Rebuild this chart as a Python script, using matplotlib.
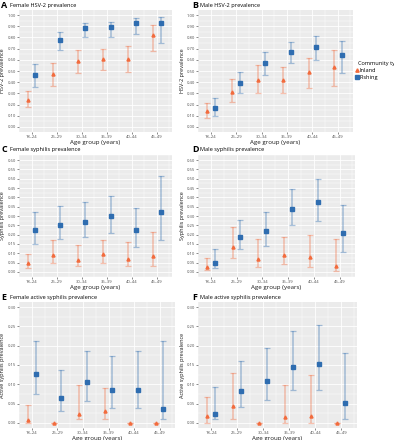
import matplotlib
matplotlib.use("Agg")
import matplotlib.pyplot as plt
import numpy as np
from matplotlib.ticker import MultipleLocator, FormatStrFormatter

age_groups = ["18\u201324", "25\u201329", "30\u201334", "35\u201339", "40\u201344", "45\u201349"]

# (estimate, lower, upper) per age group
a_inland = [(0.24, 0.18, 0.32), (0.47, 0.37, 0.57), (0.59, 0.48, 0.69),
            (0.61, 0.51, 0.70), (0.61, 0.49, 0.72), (0.82, 0.68, 0.91)]
a_fishing = [(0.46, 0.36, 0.56), (0.78, 0.69, 0.85), (0.88, 0.80, 0.93),
             (0.89, 0.80, 0.94), (0.93, 0.83, 0.97), (0.93, 0.75, 0.98)]

b_inland = [(0.14, 0.08, 0.21), (0.31, 0.22, 0.43), (0.42, 0.30, 0.55),
            (0.42, 0.30, 0.54), (0.49, 0.35, 0.62), (0.54, 0.37, 0.69)]
b_fishing = [(0.17, 0.10, 0.26), (0.39, 0.30, 0.49), (0.57, 0.46, 0.67),
             (0.67, 0.57, 0.76), (0.71, 0.60, 0.81), (0.64, 0.48, 0.77)]

c_inland = [(0.048, 0.020, 0.098), (0.089, 0.048, 0.170), (0.063, 0.032, 0.146),
            (0.095, 0.048, 0.173), (0.071, 0.030, 0.160), (0.088, 0.032, 0.212)]
c_fishing = [(0.227, 0.152, 0.320), (0.254, 0.175, 0.352), (0.268, 0.190, 0.375),
             (0.298, 0.209, 0.405), (0.223, 0.134, 0.345), (0.321, 0.173, 0.512)]

d_inland = [(0.027, 0.011, 0.077), (0.136, 0.077, 0.240), (0.071, 0.029, 0.179),
            (0.093, 0.041, 0.189), (0.080, 0.029, 0.196), (0.032, 0.004, 0.179)]
d_fishing = [(0.050, 0.020, 0.125), (0.190, 0.125, 0.279), (0.220, 0.141, 0.321),
             (0.339, 0.250, 0.443), (0.377, 0.273, 0.496), (0.207, 0.109, 0.361)]

e_inland = [(0.008, 0.000, 0.047), (0.0, 0.0, 0.0), (0.024, 0.011, 0.099),
            (0.031, 0.011, 0.091), (0.0, 0.0, 0.0), (0.0, 0.0, 0.0)]
e_fishing = [(0.127, 0.075, 0.213), (0.065, 0.030, 0.138), (0.105, 0.056, 0.187),
             (0.086, 0.038, 0.173), (0.085, 0.038, 0.187), (0.036, 0.010, 0.213)]

f_inland = [(0.017, 0.000, 0.066), (0.044, 0.010, 0.130), (0.0, 0.0, 0.0),
            (0.016, 0.000, 0.099), (0.018, 0.000, 0.124), (0.0, 0.0, 0.0)]
f_fishing = [(0.024, 0.010, 0.092), (0.083, 0.040, 0.160), (0.109, 0.058, 0.194),
             (0.146, 0.084, 0.237), (0.153, 0.084, 0.255), (0.051, 0.010, 0.180)]

INLAND = "#F26B3D"
FISHING = "#2F6DB0"
W, H = 394, 440

# letter, title, y label, inland, fishing, y max, tick step, plot box (px), letter x, y label x
panels = [
    ("A", "Female HSV-2 prevalence", "HSV-2 prevalence", a_inland, a_fishing, 1.0, 0.1, (19, 10, 172, 132), 1, 5),
    ("B", "Male HSV-2 prevalence", "HSV-2 prevalence", b_inland, b_fishing, 1.0, 0.1, (198, 10, 353, 132), 192, 185),
    ("C", "Female syphilis prevalence", "Syphilis prevalence", c_inland, c_fishing, 0.6, 0.05, (19, 155, 172, 277), 1, 5),
    ("D", "Male syphilis prevalence", "Syphilis prevalence", d_inland, d_fishing, 0.6, 0.05, (198, 155, 355, 277), 192, 185),
    ("E", "Female active syphilis prevalence", "Active syphilis prevalence", e_inland, e_fishing, 0.3, 0.05, (19, 302, 175, 428), 1, 5),
    ("F", "Male active syphilis prevalence", "Active syphilis prevalence", f_inland, f_fishing, 0.3, 0.05, (198, 302, 357, 428), 192, 185),
]

fig = plt.figure(figsize=(W / 100, H / 100), dpi=100)
plt.rcParams['font.family'] = ['Open Sans', 'DejaVu Sans']


def draw(ax, data, offset, color, marker):
    x = np.arange(len(data)) + offset
    est = np.array([d[0] for d in data])
    lo = np.array([d[1] for d in data])
    hi = np.array([d[2] for d in data])
    ax.errorbar(x, est, yerr=[est - lo, hi - est], fmt="none", ecolor=color,
                alpha=0.4, elinewidth=1.1, capsize=2.0, capthick=0.9, zorder=3)
    ax.plot(x, est, linestyle="none", marker=marker, ms=2.2, color=color, zorder=4)


for letter, title, ylab, inland, fishing, ymax, step, (x0, y0, x1, y1), lx, yx in panels:
    ax = fig.add_axes([x0 / W, (H - y1) / H, (x1 - x0) / W, (y1 - y0) / H])
    ax.set_facecolor("#EBEBEB")
    for s in ax.spines.values():
        s.set_visible(False)
    draw(ax, inland, -0.15, INLAND, "^")
    draw(ax, fishing, 0.15, FISHING, "s")
    ax.set_xlim(-0.5, 5.6)
    pad = ymax * 0.045
    ax.set_ylim(-pad, ymax + pad)
    ax.yaxis.set_major_locator(MultipleLocator(step))
    ax.yaxis.set_minor_locator(MultipleLocator(step / 2))
    ax.yaxis.set_major_formatter(FormatStrFormatter("%.2f"))
    ax.set_xticks(range(len(age_groups)))
    ax.set_xticklabels(age_groups)
    ax.set_xticks(np.arange(-0.5, 6, 1), minor=True)
    ax.grid(which="major", color="white", lw=0.6)
    ax.grid(which="minor", color="white", lw=0.3)
    ax.set_axisbelow(True)
    ax.tick_params(which="major", labelsize=3.0, length=1.2, width=0.4, color="#333333",
                   labelcolor="#4D4D4D", pad=1.0)
    ax.tick_params(which="minor", length=0)
    ax.set_xlabel("Age group (years)", fontsize=4.4, color="#1A1A1A")
    ax.xaxis.set_label_coords(0.5, -8.0 / (y1 - y0))
    ax.set_ylabel(ylab, fontsize=4.0, color="#1A1A1A")
    ax.yaxis.set_label_coords(-(x0 - yx) / (x1 - x0), 0.5)
    fig.text(lx / W, 1 - (y0 - 5) / H, letter, fontsize=6.5, fontweight="bold",
             va="center", ha="left")
    fig.text((lx + 8.5) / W, 1 - (y0 - 5) / H, title, fontsize=4.1, va="center", ha="left")

# legend
fig.text(358 / W, 1 - 63 / H, "Community type", fontsize=4.1, va="center", ha="left")
fig.lines.append(plt.Line2D([357 / W], [1 - 70.5 / H], marker="^", ms=2.4, color=INLAND,
                            transform=fig.transFigure))
fig.lines.append(plt.Line2D([357 / W], [1 - 77.5 / H], marker="s", ms=2.2, color=FISHING,
                            transform=fig.transFigure))
fig.text(360 / W, 1 - 70.5 / H, "Inland", fontsize=4.1, va="center", ha="left")
fig.text(360 / W, 1 - 77.5 / H, "Fishing", fontsize=4.1, va="center", ha="left")

fig.savefig("out.png", dpi=100)
